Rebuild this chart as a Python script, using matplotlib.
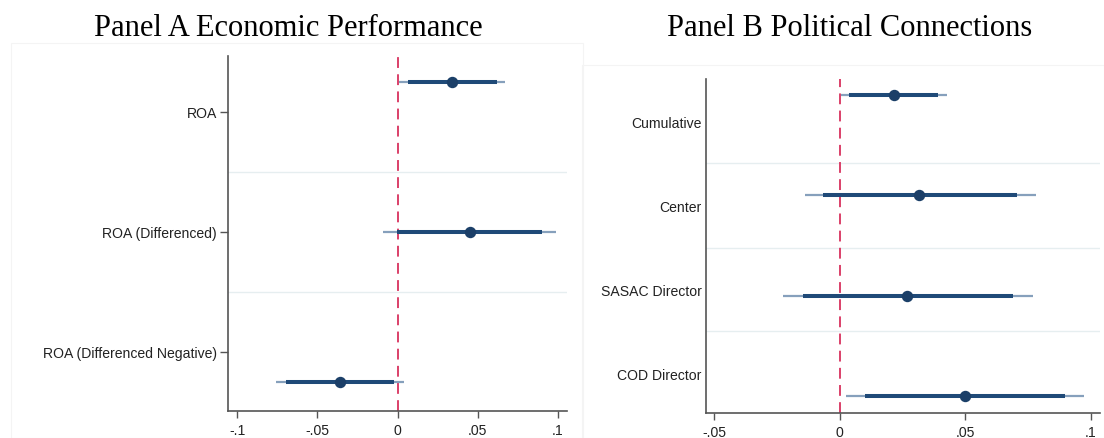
import matplotlib
matplotlib.use("Agg")
import matplotlib.pyplot as plt
from matplotlib.patches import Rectangle

# ---------------- data ----------------
labels_a = ["ROA", "ROA (Differenced)", "ROA (Differenced Negative)"]
coef_a = [0.0339, 0.0452, -0.0361]
ci95_lo_a = [0.0008, -0.0090, -0.0761]
ci95_hi_a = [0.0673, 0.0989, 0.0039]
ci90_lo_a = [0.0066, -0.0003, -0.0694]
ci90_hi_a = [0.0619, 0.0904, -0.0023]

labels_b = ["Cumulative", "Center", "SASAC Director", "COD Director"]
coef_b = [0.0215, 0.0316, 0.0266, 0.0498]
ci95_lo_b = [0.0003, -0.0139, -0.0226, 0.0023]
ci95_hi_b = [0.0425, 0.0780, 0.0771, 0.0973]
ci90_lo_b = [0.0037, -0.0066, -0.0146, 0.0100]
ci90_hi_b = [0.0392, 0.0707, 0.0691, 0.0896]

xticks_a = [-0.1, -0.05, 0, 0.05, 0.1]
xticklabels_a = ["-.1", "-.05", "0", ".05", ".1"]
xticks_b = [-0.05, 0, 0.05, 0.1]
xticklabels_b = ["-.05", "0", ".05", ".1"]

title_a = "Panel A Economic Performance"
title_b = "Panel B Political Connections"

# ---------------- style ----------------
W, H = 1104, 439
fig = plt.figure(figsize=(W / 100, H / 100), dpi=100)
plt.rcParams['font.family'] = ['Liberation Sans', 'DejaVu Sans']

THIN = '#86a0bc'
THICK = '#1f4a78'
DOT = '#1b3f68'
SPINE = '#555555'
SEP = '#e6eef0'
REF = '#d8325e'


def px_axes(l, r, t, b):
    return fig.add_axes([l / W, (H - b) / H, (r - l) / W, (b - t) / H])


# faint panel borders
fig.patches.append(Rectangle((11 / W, 0), (583 - 11) / W, (H - 44) / H,
                             transform=fig.transFigure, fill=False,
                             edgecolor='#f4f4f4', lw=0.8, zorder=0))
fig.patches.append(Rectangle((582 / W, 0), (W - 582) / W, (H - 66) / H,
                             transform=fig.transFigure, fill=False,
                             edgecolor='#f4f4f4', lw=0.8, zorder=0))


def draw(ax, labels, coef, lo95, hi95, lo90, hi90, xlim, ylim, label_pos,
         sep_pos, xt, xtl, ytick_len):
    n = len(labels)
    rows = list(range(1, n + 1))
    for yv in sep_pos:
        ax.axhline(yv, color=SEP, lw=1.0, zorder=1)
    ax.axvline(0, color=REF, lw=1.3, ls=(0, (6, 3.5)), zorder=2)
    ax.hlines(rows, lo95, hi95, color=THIN, lw=1.6, zorder=3)
    ax.hlines(rows, lo90, hi90, color=THICK, lw=2.9, zorder=4)
    ax.plot(coef, rows, 'o', color=DOT, ms=7.2, zorder=5)
    ax.set_xlim(*xlim)
    ax.set_ylim(*ylim)
    ax.set_yticks(label_pos)
    ax.set_yticklabels(labels)
    ax.set_xticks(xt)
    ax.set_xticklabels(xtl)
    for s in ['top', 'right']:
        ax.spines[s].set_visible(False)
    for s in ['left', 'bottom']:
        ax.spines[s].set_color(SPINE)
        ax.spines[s].set_linewidth(1.2)
    ax.tick_params(axis='x', length=5, width=1.0, color=SPINE, pad=4,
                   labelsize=10.1, labelcolor='#222222')
    ax.tick_params(axis='y', length=ytick_len, width=1.0, color=SPINE,
                   pad=3 if ytick_len == 0 else 2, labelsize=10.1,
                   labelcolor='#222222')
    ax.set_facecolor('none')


ax_a = px_axes(228, 567, 57, 412)
draw(ax_a, labels_a, coef_a, ci95_lo_a, ci95_hi_a, ci90_lo_a, ci90_hi_a,
     (-0.1058, 0.1058), (3.195, 0.83), [1.2, 2.0, 2.8], [1.6, 2.4],
     xticks_a, xticklabels_a, 6)

ax_b = px_axes(706, 1100, 80, 414)
draw(ax_b, labels_b, coef_b, ci95_lo_b, ci95_hi_b, ci90_lo_b, ci90_hi_b,
     (-0.0533, 0.1036), (4.166, 0.84), [1.26, 2.10, 2.94, 3.77],
     [1.68, 2.52, 3.35], xticks_b, xticklabels_b, 0)

fig.text(288 / W, (H - 36) / H, title_a, ha='center', va='baseline',
         fontsize=22, family=['Liberation Serif', 'DejaVu Serif'], color='black')
fig.text(850 / W, (H - 36) / H, title_b, ha='center', va='baseline',
         fontsize=22, family=['Liberation Serif', 'DejaVu Serif'], color='black')

fig.savefig('out.png', dpi=100, facecolor='white')
